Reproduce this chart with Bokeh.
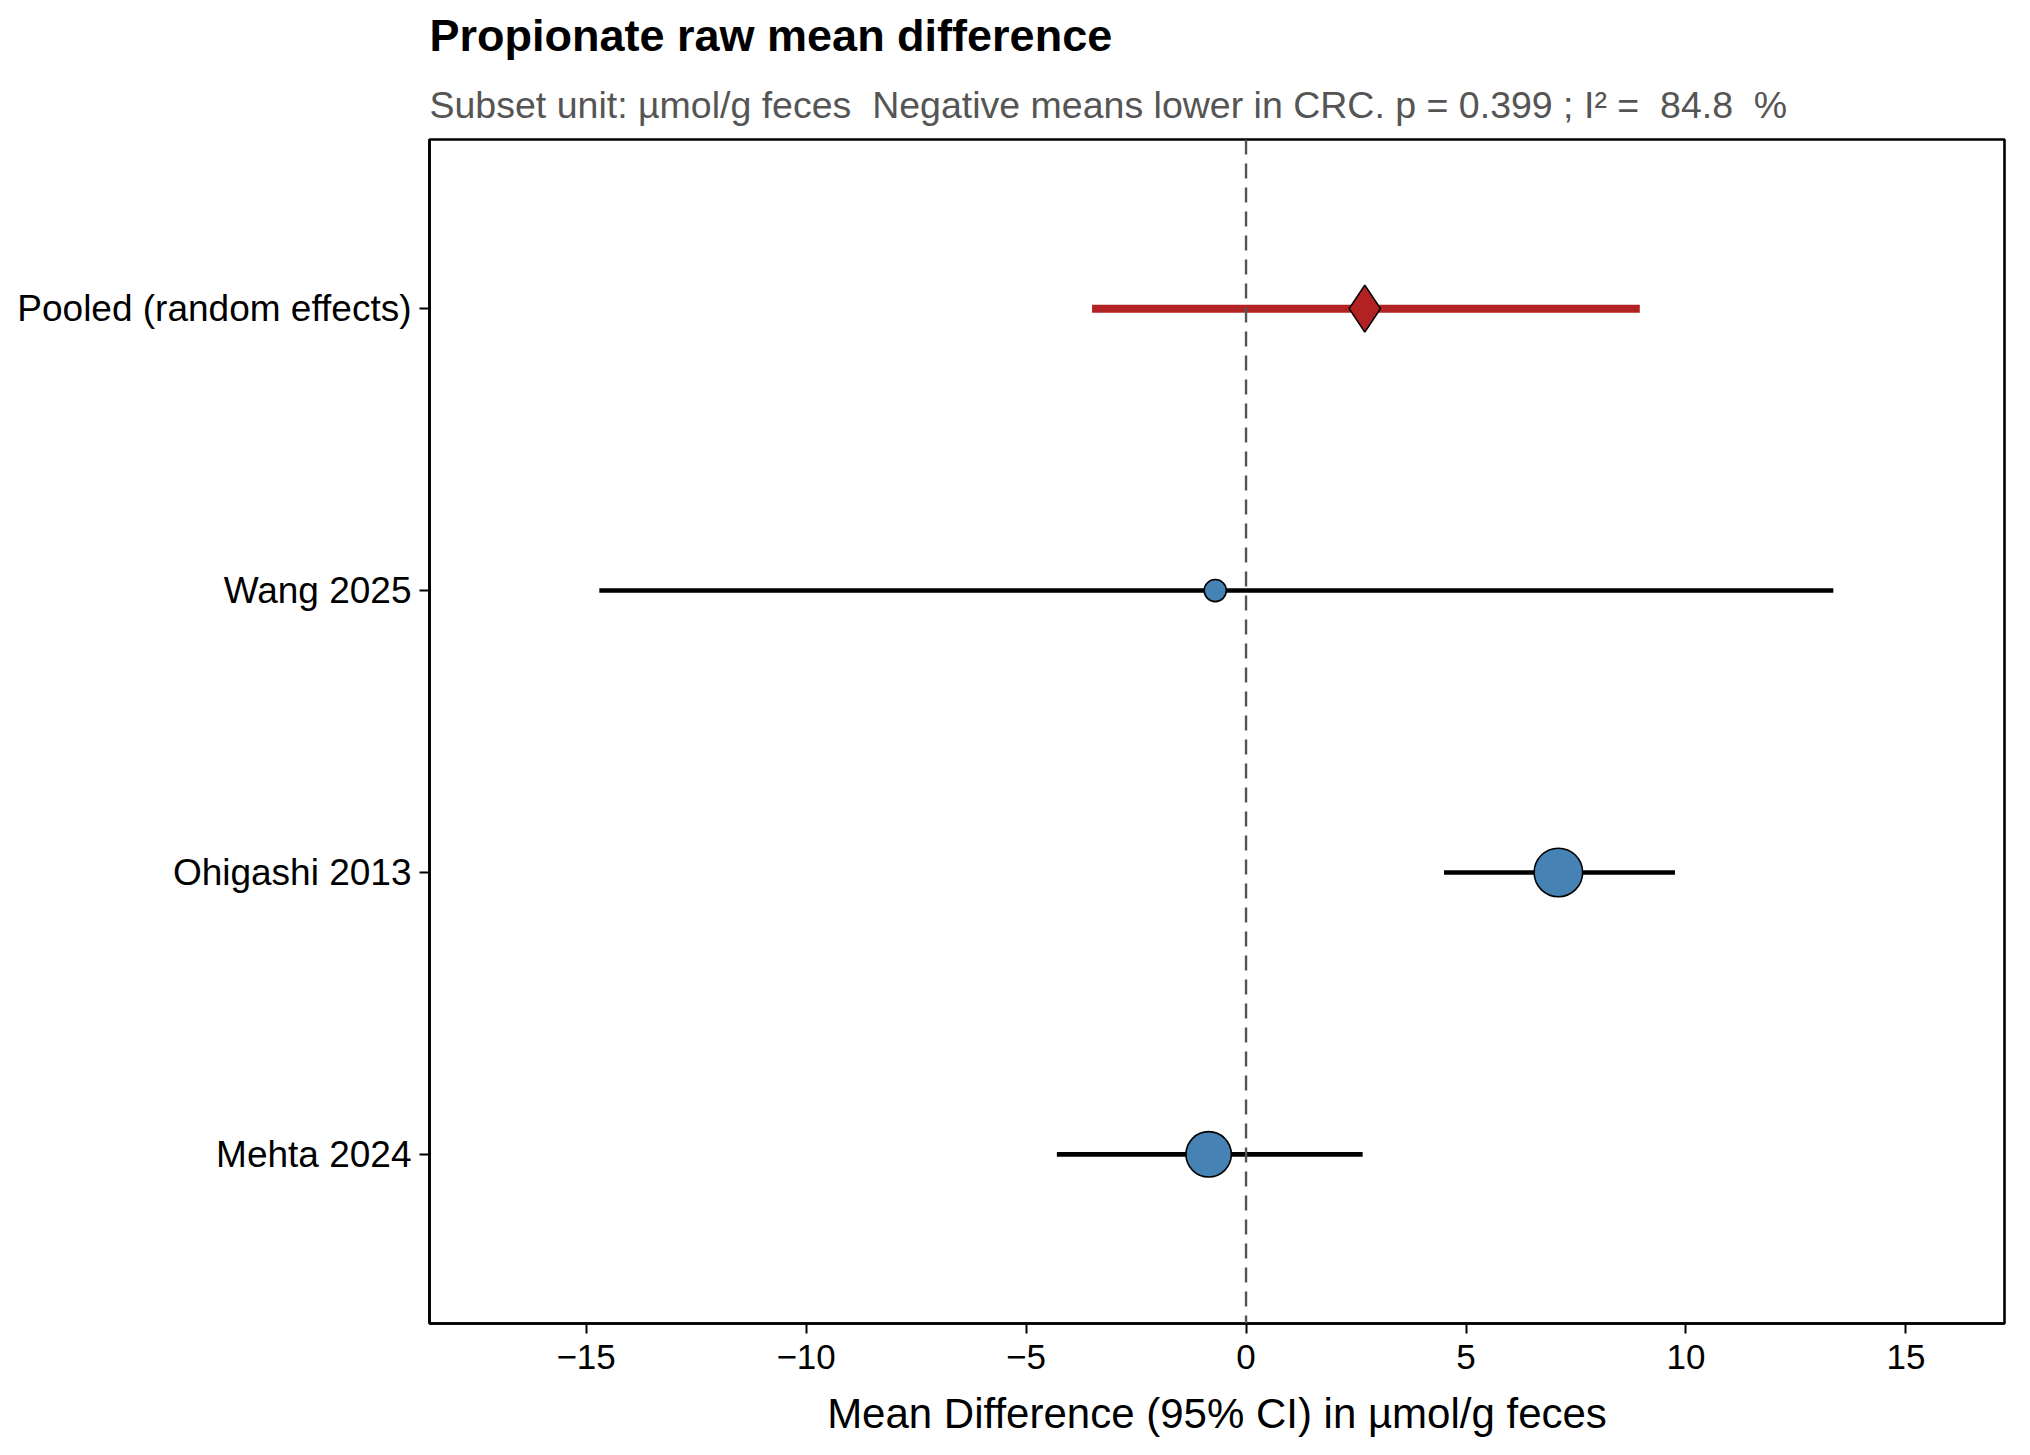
from bokeh.plotting import figure
from bokeh.models import Title, Span, FixedTicker, ColumnDataSource, Range1d
from bokeh.embed import file_html
from bokeh.resources import INLINE
import math

# ---- data ----
studies = ["Mehta 2024", "Ohigashi 2013", "Wang 2025"]
estimates = [-0.85, 7.1, -0.7]
ci_low = [-4.3, 4.5, -14.7]
ci_high = [2.65, 9.75, 13.35]
weights = [42.0, 48.0, 10.0]

pooled_label = "Pooled (random effects)"
pooled_est = [2.7]
pooled_low = [-3.5]
pooled_high = [8.95]

x_ticks = [-15, -10, -5, 0, 5, 10, 15]
x_tick_labels = ["\u221215", "\u221210", "\u22125", "0", "5", "10", "15"]

NB = "\u00a0"
title_text = "Propionate raw mean difference"
subtitle_text = ("Subset unit: \u00b5mol/g feces" + NB + " Negative means lower in CRC. p = 0.399 ; I\u00b2 =" + NB
                 + " 84.8" + NB + " %")
x_label = "Mean Difference (95% CI) in \u00b5mol/g feces"

FONT = "Liberation Sans"

# ---- build ----
labels = studies + [pooled_label]
ys = list(range(1, len(studies) + 1))
pooled_y = [len(studies) + 1]

p = figure(width=2014, height=1439,
           x_range=Range1d(-18.56, 17.24), y_range=Range1d(0.4, 4.6),
           output_backend="svg", toolbar_location=None,
           min_border_left=429, min_border_right=10,
           min_border_bottom=116, min_border_top=0)

sub = Title(text=subtitle_text, align="left", text_font=FONT, text_font_size="37.5px",
            text_font_style="normal", text_color="#555555", standoff=28)
p.add_layout(sub, "above")
main = Title(text=title_text, align="left", text_font=FONT, text_font_size="45px",
             text_font_style="bold", text_color="black", standoff=14)
p.add_layout(main, "above")

p.xgrid.visible = False
p.ygrid.visible = False
p.outline_line_color = "black"
p.outline_line_width = 2.6
p.background_fill_color = "white"
p.border_fill_color = "white"

# zero line
p.add_layout(Span(location=0, dimension="height", line_color="#555555",
                  line_width=2.4, line_dash="15 9"))

src = ColumnDataSource(dict(y=ys, est=estimates, lo=ci_low, hi=ci_high,
                            size=[7.0 * math.sqrt(w) for w in weights]))
p.segment(x0="lo", y0="y", x1="hi", y1="y", source=src, line_color="black", line_width=4.6)
p.scatter(x="est", y="y", size="size", source=src, marker="circle",
          fill_color="#4682B4", line_color="black", line_width=1.6)

psrc = ColumnDataSource(dict(y=pooled_y, est=pooled_est, lo=pooled_low, hi=pooled_high))
p.segment(x0="lo", y0="y", x1="hi", y1="y", source=psrc, line_color="#B22222", line_width=8)
p.scatter(x="est", y="y", size=47, source=psrc, marker="diamond",
          fill_color="#B22222", line_color="black", line_width=1.6)

# axes
p.xaxis.ticker = FixedTicker(ticks=x_ticks)
p.xaxis.major_label_overrides = {t: l for t, l in zip(x_ticks, x_tick_labels)}
p.yaxis.ticker = FixedTicker(ticks=ys + pooled_y)
p.yaxis.major_label_overrides = {y: l for y, l in zip(ys + pooled_y, labels)}

for ax in (p.xaxis[0], p.yaxis[0]):
    ax.axis_line_color = "black"
    ax.axis_line_width = 2.6
    ax.major_tick_line_color = "black"
    ax.major_tick_line_width = 2
    ax.major_tick_out = 10
    ax.major_tick_in = 0
    ax.minor_tick_line_color = None
    ax.major_label_text_font = FONT
    ax.major_label_text_color = "black"

p.xaxis.major_label_text_font_size = "35px"
p.xaxis.major_label_standoff = 11
p.yaxis.major_label_text_font_size = "37px"
p.yaxis.major_label_standoff = 8

p.xaxis.axis_label = x_label
p.xaxis.axis_label_text_font = FONT
p.xaxis.axis_label_text_font_size = "42px"
p.xaxis.axis_label_text_font_style = "normal"
p.xaxis.axis_label_text_color = "black"
p.xaxis.axis_label_standoff = 18

open("out.html", "w").write(file_html(p, INLINE))
